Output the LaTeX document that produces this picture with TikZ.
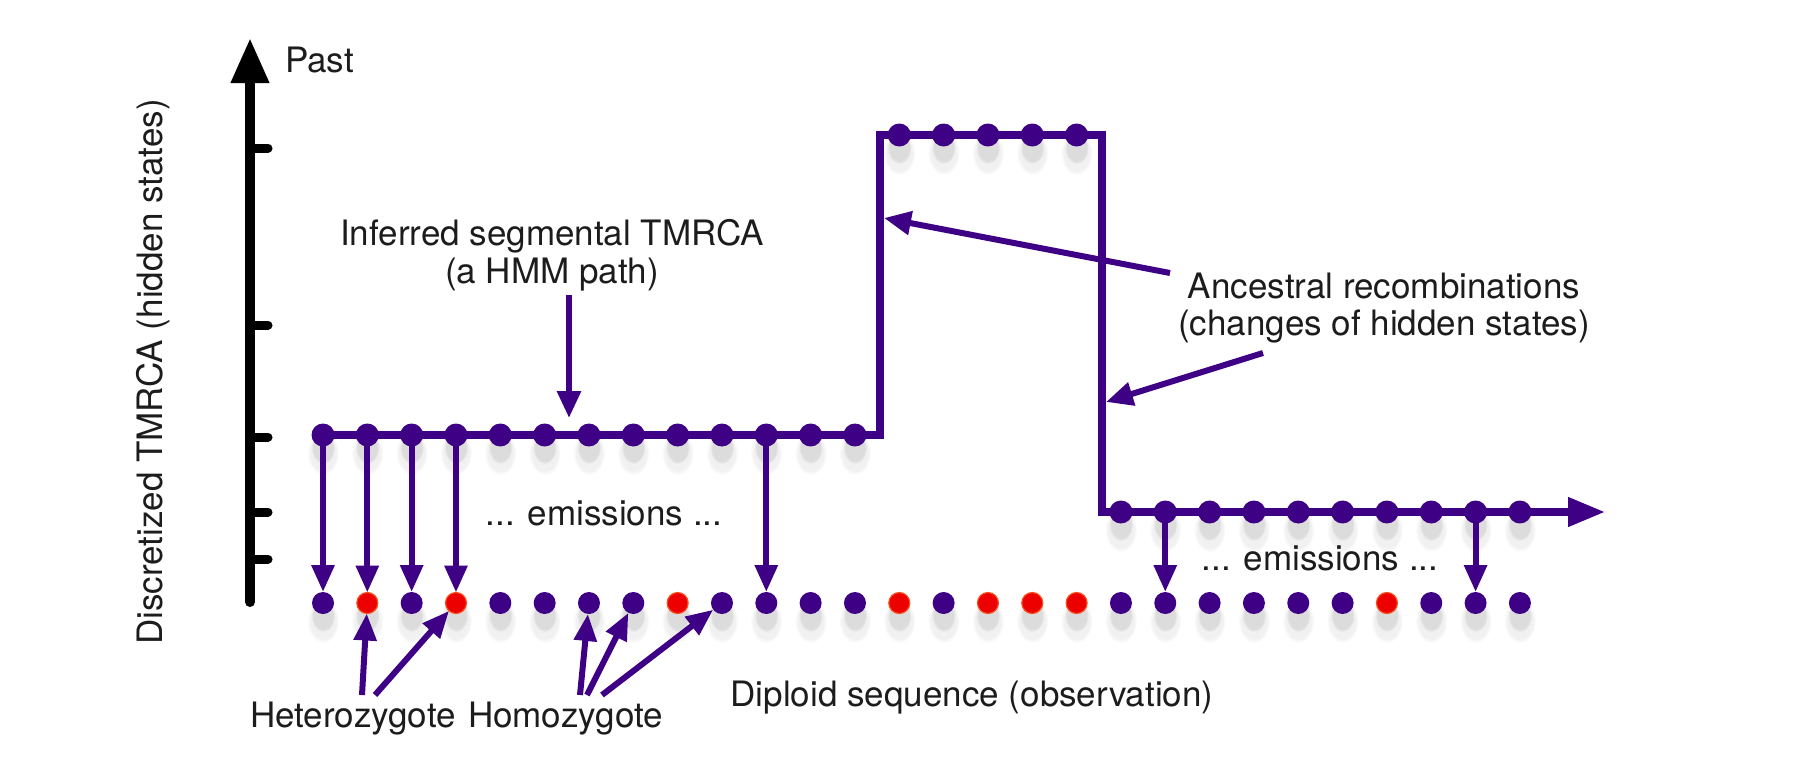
\documentclass[tikz,border=0pt]{standalone}
\usepackage{fontspec}
\setmainfont{TeX Gyre Heros}
\usetikzlibrary{arrows.meta,fadings}
\definecolor{pur}{RGB}{62,0,132}
\definecolor{hetred}{RGB}{236,0,0}
\definecolor{hetrim}{RGB}{245,80,30}
\definecolor{txt}{RGB}{28,28,28}
\begin{document}
\begin{tikzpicture}[x=1bp,y=-1bp,
  every node/.style={inner sep=0pt, outer sep=0pt},
  lbl/.style={font=\fontsize{35bp}{38bp}\selectfont, text=txt, anchor=base},
  pdot/.style={circle, fill=pur, minimum size=23bp},
  odot/.style={circle, fill=pur, minimum size=22bp},
  rdot/.style={circle, fill=hetred, draw=hetrim, line width=1.2bp, minimum size=21bp},
  dshadowA/.style={fill=black!70, opacity=0.13, path fading=circle with fuzzy edge 20 percent},
  dshadowB/.style={fill=black!70, opacity=0.08, path fading=circle with fuzzy edge 20 percent},
  hmmline/.style={draw=pur, line width=7.5bp, line join=miter, -{Triangle[length=37bp,width=28bp]}},
  emit/.style={draw=pur, line width=6bp, -{Triangle[length=27bp,width=22bp]}},
  annot/.style={draw=pur, line width=6bp, -{Triangle[length=27bp,width=23bp]}},
  axisline/.style={draw=black, line width=10bp, line cap=round, -{Triangle[length=45bp,width=36bp]}},
  tickline/.style={draw=black, line width=9bp, line cap=round}
]
\useasboundingbox (0,0) rectangle (1795,761);

% geometry
\def\xo{323}
\def\dx{44.33}

% soft shadows below the dots
\foreach \k in {0,...,27} {
  \fill[dshadowB] ({\xo+\dx*\k},621) ellipse (16 and 22);
  \fill[dshadowA] ({\xo+\dx*\k},616) ellipse (12 and 16);
}
\foreach \k in {0,...,12} {
  \fill[dshadowB] ({\xo+\dx*\k},453) ellipse (16 and 22);
  \fill[dshadowA] ({\xo+\dx*\k},448) ellipse (12 and 16);
}
\foreach \k in {13,...,17} {
  \fill[dshadowB] ({\xo+\dx*\k},153) ellipse (16 and 22);
  \fill[dshadowA] ({\xo+\dx*\k},148) ellipse (12 and 16);
}
\foreach \k in {18,...,27} {
  \fill[dshadowB] ({\xo+\dx*\k},530) ellipse (16 and 22);
  \fill[dshadowA] ({\xo+\dx*\k},525) ellipse (12 and 16);
}

% vertical axis
\coordinate (axb) at (250,602);
\coordinate (axt) at (250,38);
\draw[axisline] (axb) -- (axt);
\foreach \ty [count=\i] in {148,325,437,512,559} {
  \coordinate (tk\i a) at (250,\ty);
  \coordinate (tk\i b) at (268,\ty);
  \draw[tickline] (tk\i a) -- (tk\i b);
}
\node[lbl, anchor=base west] (past) at (285,73) {Past};
\node[lbl, rotate=90] (ylab) at (162,372) {Discretized TMRCA (hidden states)};

% hidden path dots
\foreach \k in {0,...,12} { \coordinate (pc\k) at ({\xo+\dx*\k},435); }
\foreach \k in {13,...,17} { \coordinate (pc\k) at ({\xo+\dx*\k},135); }
\foreach \k in {18,...,27} { \coordinate (pc\k) at ({\xo+\dx*\k},512); }

\coordinate (c1) at (880,435);
\coordinate (c2) at (880,135);
\coordinate (c3) at (1102,135);
\coordinate (c4) at (1102,512);
\coordinate (pathend) at (1605,512);
\draw[hmmline] (pc0) -- (c1) -- (c2) -- (c3) -- (c4) -- (pathend);

\foreach \k in {0,...,27} { \node[pdot] (p\k) at (pc\k) {}; }

% observation dots
\foreach \k in {0,...,27} {
  \ifnum\k=1 \def\st{rdot}\else
  \ifnum\k=3 \def\st{rdot}\else
  \ifnum\k=8 \def\st{rdot}\else
  \ifnum\k=13 \def\st{rdot}\else
  \ifnum\k=15 \def\st{rdot}\else
  \ifnum\k=16 \def\st{rdot}\else
  \ifnum\k=17 \def\st{rdot}\else
  \ifnum\k=24 \def\st{rdot}\else
  \def\st{odot}\fi\fi\fi\fi\fi\fi\fi\fi
  \node[\st] (o\k) at ({\xo+\dx*\k},603) {};
}

% emissions
\foreach \k in {0,1,2,3,10,19,26} {
  \draw[emit] (p\k.center) -- (o\k);
}
\node[lbl] (em1) at (604,525) {... emissions ...};
\node[lbl] (em2) at (1320,570) {... emissions ...};

% HMM path label
\node[lbl] (inf1) at (552,245) {Inferred segmental TMRCA};
\node[lbl] (inf2) at (552,283) {(a HMM path)};
\coordinate (hmms) at (569,295);
\coordinate (hmmt) at (569,418);
\draw[annot] (hmms) -- (hmmt);

% Ancestral recombinations
\node[lbl] (anc1) at (1384,298) {Ancestral recombinations};
\node[lbl] (anc2) at (1384,335) {(changes of hidden states)};
\coordinate (a1s) at (1170,273);
\coordinate (a1t) at (884,218);
\coordinate (a2s) at (1263,353);
\coordinate (a2t) at (1106,402);
\draw[annot] (a1s) -- (a1t);
\draw[annot] (a2s) -- (a2t);

% bottom labels
\node[lbl, anchor=base west] (het) at (250,727) {Heterozygote};
\node[lbl, anchor=base west] (hom) at (468,727) {Homozygote};
\node[lbl] (dip) at (972,706) {Diploid sequence (observation)};

\coordinate (h1) at (362,695);
\coordinate (h2) at (375,695);
\coordinate (m1) at (580,695);
\coordinate (m2) at (587,695);
\coordinate (m3) at (602,695);
\draw[emit] (h1) -- (o1);
\draw[emit] (h2) -- (o3);
\draw[emit] (m1) -- (o6);
\draw[emit] (m2) -- (o7);
\draw[emit] (m3) -- (o9);
\end{tikzpicture}
\end{document}
